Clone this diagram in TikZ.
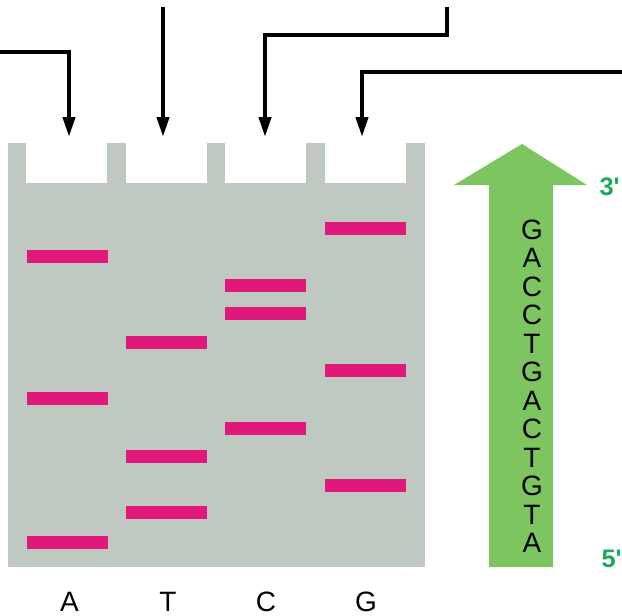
\documentclass[tikz,border=0pt]{standalone}
\usepackage{fontspec}
\setmainfont{Liberation Sans}
\usetikzlibrary{arrows.meta}

\definecolor{gelgrey}{RGB}{192,201,193}
\definecolor{bandpink}{RGB}{224,24,122}
\definecolor{seqgreen}{RGB}{125,197,95}
\definecolor{endgreen}{RGB}{24,168,90}

\tikzset{every picture/.style={line width=0.75pt}}

\begin{document}
\begin{tikzpicture}[x=0.75pt,y=0.75pt,yscale=-1,
	well/.style={fill=white,inner sep=0pt,minimum width=60.75pt,minimum height=30pt},
	feed/.style={line width=3pt,-{Triangle[width=9pt,length=15pt]}},
	base/.style={anchor=base,inner sep=0pt,font=\fontsize{21}{21}\selectfont},
	strand/.style={anchor=base west,inner sep=0pt,text=endgreen,
		font=\bfseries\fontsize{19}{19}\selectfont\addfontfeature{Ligatures=TeXOff}}]
	\useasboundingbox (0,0) rectangle (622,615);

	%Shape: Gel
	\fill[gelgrey] (8,143) rectangle (425,567);

	%Shape: Wells
	\node[well] (wA) at (66.5,163) {};
	\node[well] (wT) at (166,163) {};
	\node[well] (wC) at (265.5,163) {};
	\node[well] (wG) at (365.5,163) {};

	%Shape: Bands
	\foreach \x/\y in {67.5/256, 67.5/398, 67.5/542,
			166.5/342, 166.5/456, 166.5/512,
			265.5/285, 265.5/313, 265.5/428,
			365.5/228, 365.5/370, 365.5/485}
		\fill[bandpink] (\x-40.5,\y-6.5) rectangle (\x+40.5,\y+6.5);

	%Straight Lines: feeding the lanes
	\coordinate (inA) at (0,52);
	\coordinate (inT) at (163,7);
	\coordinate (inC) at (447,7);
	\coordinate (bendC) at (265,35);
	\coordinate (inG) at (625,72);
	\coordinate (tipA) at (69,137);
	\coordinate (tipT) at (163,137);
	\coordinate (tipC) at (265,137);
	\coordinate (tipG) at (362,137);
	\draw[feed] (inA) -| (tipA);
	\draw[feed] (inT) -- (tipT);
	\draw[feed] (inC) |- (bendC) -- (tipC);
	\draw[feed] (inG) -| (tipG);

	%Shape: Arrow
	\fill[seqgreen] (522,144) -- (587,185) -- (553,185) -- (553,567) -- (489,567) -- (489,185) -- (454,185) -- cycle;

	% Text Node: read sequence
	\foreach \b [count=\i] in {G,A,C,C,T,G,A,C,T,G,T,A}
		\node[base] (s\i) at (532,{210.5+28.5*\i}) {\b};

	% Text Node
	\node[strand] (three) at (599,195) {3'};
	% Text Node
	\node[strand] (five) at (601,567) {5'};

	% Text Node: lanes
	\node[base] (lA) at (69.5,611) {A};
	\node[base] (lT) at (168,611) {T};
	\node[base] (lC) at (266,611) {C};
	\node[base] (lG) at (366,611) {G};

\end{tikzpicture}
\end{document}
